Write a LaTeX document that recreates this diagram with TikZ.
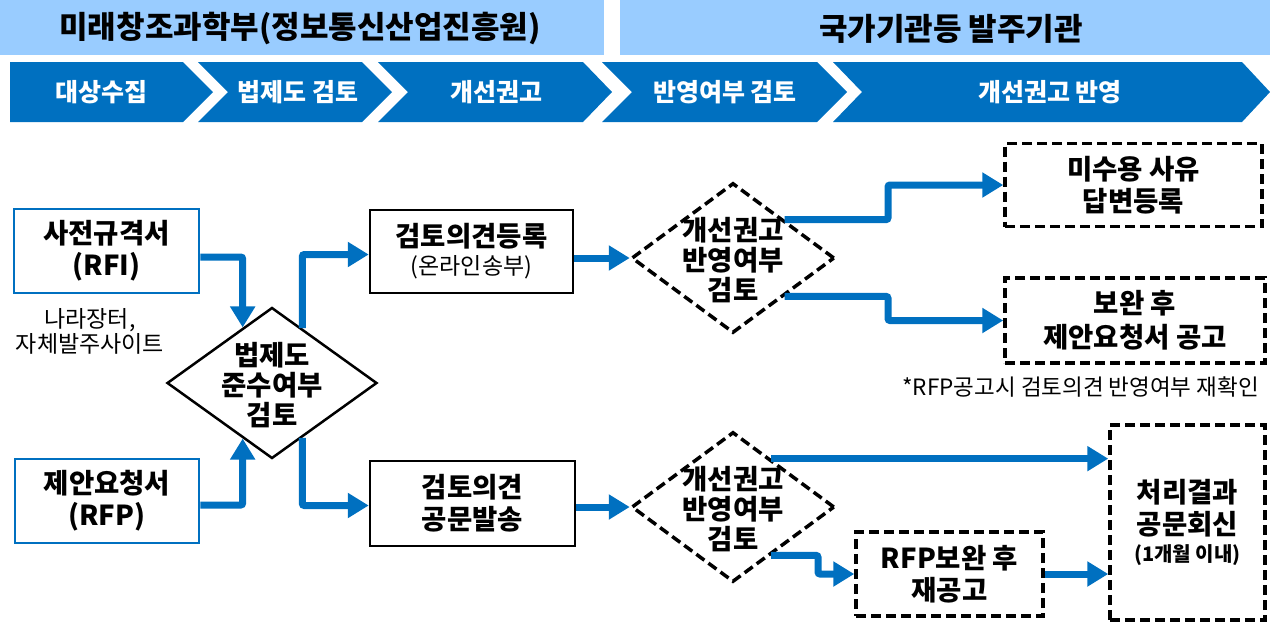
\documentclass[tikz,border=0pt]{standalone}
\usepackage{fontspec}
\setmainfont{Noto Sans CJK KR}
\usetikzlibrary{shapes.geometric,arrows.meta,calc}
\definecolor{hdr}{HTML}{99CCFF}
\definecolor{chev}{HTML}{0070C0}
\begin{document}
\begin{tikzpicture}[x=1pt,y=-1pt,
  hdrtxt/.style={font=\fontsize{31}{35}\selectfont\bfseries, inner sep=0},
  chevtxt/.style={text=white, font=\fontsize{25}{29}\selectfont\bfseries, inner sep=0},
  boxbase/.style={rectangle, align=center, inner sep=0, font=\fontsize{27.5}{32}\selectfont\bfseries},
  bluebox/.style={boxbase, draw=chev, line width=2.5pt},
  solidbox/.style={boxbase, draw=black, line width=2.5pt},
  dashbox/.style={boxbase, draw=black, line width=3.5pt, dash pattern=on 10pt off 5pt},
  dia/.style={diamond, inner sep=0, minimum width=203, minimum height=150},
  soliddia/.style={dia, draw=black, line width=2.5pt},
  dashdia/.style={dia, draw=black, line width=3.5pt, dash pattern=on 10pt off 5pt},
  diatxt/.style={align=center, inner sep=0, font=\fontsize{27.5}{30}\selectfont\bfseries},
  plain/.style={align=center, inner sep=0, font=\fontsize{23}{25}\selectfont},
  flow/.style={draw=chev, line width=7pt, rounded corners=2pt, -{Triangle[length=21pt,width=24pt]}}
]
\useasboundingbox (0,0) rectangle (1270,625);

% header bars
\fill[hdr] (0,0) rectangle (604,55);
\fill[hdr] (620,0) rectangle (1270,55);
\node[hdrtxt] (h1) at (300,29) {미래창조과학부(정보통신산업진흥원)};
\node[hdrtxt] (h2) at (951,29) {국가기관등 발주기관};

% chevrons
\fill[chev] (10,62) -- (183,62) -- (213,92) -- (183,122) -- (10,122) -- cycle;
\fill[chev] (198,62) -- (362,62) -- (392,92) -- (362,122) -- (198,122) -- (228,92) -- cycle;
\fill[chev] (378,62) -- (583,62) -- (612,92) -- (583,122) -- (378,122) -- (408,92) -- cycle;
\fill[chev] (602,62) -- (817,62) -- (847,92) -- (817,122) -- (602,122) -- (632,92) -- cycle;
\fill[chev] (833,62) -- (1242,62) -- (1270,92) -- (1242,122) -- (833,122) -- (862,92) -- cycle;
\node[chevtxt] (c1) at (101,92) {대상수집};
\node[chevtxt] (c2) at (298,92) {법제도 검토};
\node[chevtxt] (c3) at (496,92) {개선권고};
\node[chevtxt] (c4) at (725,92) {반영여부 검토};
\node[chevtxt] (c5) at (1050,92) {개선권고 반영};

% left boxes
\node[bluebox, minimum width=185, minimum height=84] (rfi) at (106.5,251) {사전규격서\\(RFI)};
\node[bluebox, minimum width=184, minimum height=84] (rfp) at (107,501) {제안요청서\\(RFP)};
\node[plain] (n1) at (90,331) {나라장터,\\자체발주사이트};

% diamond 1
\node[soliddia, minimum width=210, minimum height=151] (d1) at (272,383) {};
\node[diatxt] (d1t) at ($(d1.center)+(0,2)$) {법제도\\준수여부\\검토};

% middle boxes
\node[solidbox, minimum width=203, minimum height=83] (rev) at (471.5,251.5)
  {검토의견등록\\[-4pt]{\mdseries\fontsize{23}{25}\selectfont(온라인송부)}};
\node[solidbox, minimum width=205, minimum height=85] (doc) at (472.5,503.5) {검토의견\\공문발송};

% diamonds 2,3
\node[dashdia] (d2) at (733,258) {};
\node[diatxt] (d2t) at ($(d2.center)+(0,2)$) {개선권고\\반영여부\\검토};
\node[dashdia] (d3) at (733,507) {};
\node[diatxt] (d3t) at ($(d3.center)+(0,2)$) {개선권고\\반영여부\\검토};

% right boxes
\node[dashbox, minimum width=257, minimum height=83] (rej) at (1133.5,185) {미수용 사유\\답변등록};
\node[dashbox, minimum width=260, minimum height=85, font=\fontsize{27.5}{34}\selectfont\bfseries] (sup) at (1135,320.5) {보완 후\\제안요청서 공고};
\node[plain, anchor=east, font=\fontsize{22.5}{25}\selectfont] (n2) at (1259,387) {*RFP공고시 검토의견 반영여부 재확인};
\node[dashbox, minimum width=155, minimum height=195] (res) at (1187.5,522.5)
  {처리결과\\공문회신\\[-5pt]{\fontsize{20}{23}\selectfont(1개월 이내)}};
\node[dashbox, minimum width=187, minimum height=84] (rfpre) at (949.5,574) {RFP보완 후\\재공고};

% helper coordinates
\coordinate (m1) at (888,0);
\coordinate (m2) at (818,0);
\coordinate (a1) at ($(d1.north)!0.276!(d1.west)$);
\coordinate (a2) at ($(d1.south)!0.276!(d1.west)$);
\coordinate (b1) at ($(d1.north)!0.2857!(d1.east)$);
\coordinate (b2) at ($(d1.south)!0.2857!(d1.east)$);
\coordinate (p3) at ($(d3.north)!0.37!(d3.east)$);
\coordinate (p4) at ($(d3.south)!0.37!(d3.east)$);
\coordinate (r1) at ($(rfi.east)+(0,6)$);
\coordinate (r2) at ($(rfp.east)+(0,4)$);
\coordinate (v1) at ($(rev.west)+(0,3)$);
\coordinate (v2) at ($(doc.west)+(0,2)$);

% connectors
\draw[flow] (r1) -| (a1);
\draw[flow] (r2) -| (a2);
\draw[flow] (b1) |- (v1);
\draw[flow] (b2) |- (v2);
\draw[flow] (rev.east |- d2.west) -- (d2.west);
\draw[flow] (doc.east |- d3.west) -- (d3.west);
\draw[flow] (d2.north east) -- (d2.north east -| m1) -- (m1 |- rej.west) -- (rej.west);
\draw[flow] (d2.south east) -- (d2.south east -| m1) -- (m1 |- sup.west) -- (sup.west);
\draw[flow] (p3) -- (p3 -| res.west);
\draw[flow] (p4) -- (p4 -| m2) -- (m2 |- rfpre.west) -- (rfpre.west);
\draw[flow] (rfpre.east) -- (rfpre.east -| res.west);
\end{tikzpicture}
\end{document}
